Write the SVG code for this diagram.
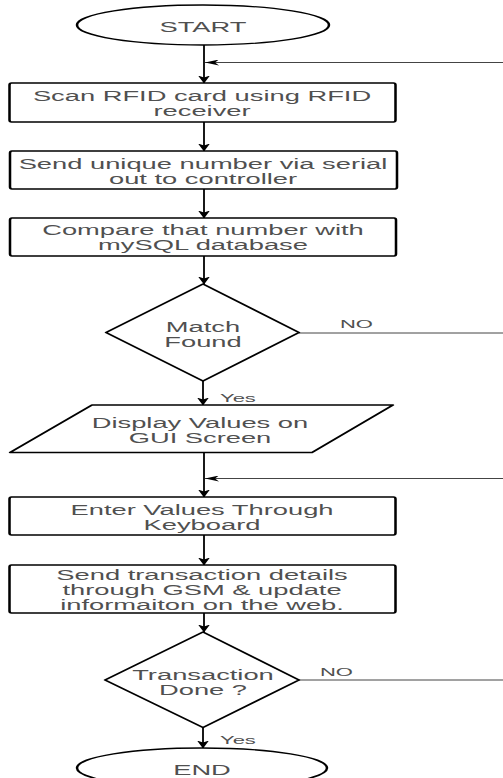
<svg xmlns="http://www.w3.org/2000/svg" width="503" height="778" viewBox="0 0 503 778">
<style>
.shape{fill:#fff;stroke:#000;stroke-width:1.3;stroke-linejoin:round}
.t{font-family:"Liberation Sans",Arial,sans-serif;font-size:14px;fill:#505050;text-anchor:middle}
.s{font-family:"Liberation Sans",Arial,sans-serif;font-size:11px;fill:#505050;text-anchor:start}
.c{fill:none;stroke:#000;stroke-width:1.8}
.f{fill:none;stroke:#444;stroke-width:1}
</style>
<defs>
<marker id="ad" markerUnits="userSpaceOnUse" viewBox="0 -6 8 12" markerWidth="8" markerHeight="12" refX="7.5" refY="0" orient="auto">
<path d="M0,-6 L8,0 L0,6 L2,0 Z" fill="#000"/>
</marker>
<marker id="al" markerUnits="userSpaceOnUse" viewBox="0 -3 14 6" markerWidth="14" markerHeight="6" refX="14" refY="0" orient="auto">
<path d="M0,-3 L14,0 L0,3 L4,0 Z" fill="#000"/>
</marker>
</defs>
<rect width="503" height="778" fill="#fff"/>
<g id="connectors">
<line class="c" x1="204" y1="45" x2="204" y2="83" marker-end="url(#ad)"/>
<line class="f" x1="503" y1="62.5" x2="205" y2="62.5" marker-end="url(#al)"/>
<line class="c" x1="204" y1="122" x2="204" y2="151" marker-end="url(#ad)"/>
<line class="c" x1="204" y1="189" x2="204" y2="218" marker-end="url(#ad)"/>
<line class="c" x1="204" y1="256" x2="204" y2="284" marker-end="url(#ad)"/>
<line class="f" x1="299" y1="333" x2="503" y2="333"/>
<text class="s" transform="translate(340,328) scale(2,1)">NO</text>
<line class="c" x1="203" y1="381" x2="203" y2="405" marker-end="url(#ad)"/>
<text class="s" transform="translate(220,401.5) scale(2,1)">Yes</text>
<line class="c" x1="204" y1="452" x2="204" y2="497" marker-end="url(#ad)"/>
<line class="f" x1="503" y1="478.5" x2="205" y2="478.5" marker-end="url(#al)"/>
<line class="c" x1="204" y1="535" x2="204" y2="565" marker-end="url(#ad)"/>
<line class="c" x1="204" y1="613" x2="204" y2="632" marker-end="url(#ad)"/>
<line class="f" x1="299" y1="680" x2="503" y2="680"/>
<text class="s" transform="translate(320,676) scale(2,1)">NO</text>
<line class="c" x1="203" y1="727" x2="203" y2="748" marker-end="url(#ad)"/>
<text class="s" transform="translate(220,744) scale(2,1)">Yes</text>
</g>
<g id="start">
<ellipse class="shape" transform="scale(1.95,1)" cx="104.10" cy="25" rx="64.62" ry="20"/>
<text class="t" transform="translate(203,32) scale(1.95,1)">START</text>
</g>
<g id="scan">
<rect class="shape" transform="scale(1.95,1)" x="4.872" y="83" width="197.95" height="39" rx="1" ry="2"/>
<text class="t" transform="translate(202,101) scale(1.95,1)">Scan RFID card using RFID</text>
<text class="t" transform="translate(202,115.5) scale(1.95,1)">receiver</text>
</g>
<g id="send">
<rect class="shape" transform="scale(1.95,1)" x="5.128" y="151" width="198.46" height="38" rx="1" ry="2"/>
<text class="t" transform="translate(203,169) scale(1.95,1)">Send unique number via serial</text>
<text class="t" transform="translate(203,183.5) scale(1.95,1)">out to controller</text>
</g>
<g id="compare">
<rect class="shape" transform="scale(1.95,1)" x="5.128" y="218" width="197.95" height="38" rx="1" ry="2"/>
<text class="t" transform="translate(203,235) scale(1.95,1)">Compare that number with</text>
<text class="t" transform="translate(203,249.5) scale(1.95,1)">mySQL database</text>
</g>
<g id="match">
<polygon class="shape" transform="scale(1.95,1)" points="104.10,284 153.33,332.5 104.10,381 54.36,332.5"/>
<text class="t" transform="translate(203,331.5) scale(1.95,1)">Match</text>
<text class="t" transform="translate(203,346.5) scale(1.95,1)">Found</text>
</g>
<g id="display">
<path class="shape" transform="scale(1.95,1)" d="M47.18,405 L201.54,405 L160,452.5 L5.128,452.5 Z"/>
<text class="t" transform="translate(200,428) scale(1.95,1)">Display Values on</text>
<text class="t" transform="translate(200,443) scale(1.95,1)">GUI Screen</text>
</g>
<g id="enter">
<rect class="shape" transform="scale(1.95,1)" x="4.872" y="497" width="197.95" height="38" rx="1" ry="2"/>
<text class="t" transform="translate(202,515) scale(1.95,1)">Enter Values Through</text>
<text class="t" transform="translate(202,530) scale(1.95,1)">Keyboard</text>
</g>
<g id="transaction">
<rect class="shape" transform="scale(1.95,1)" x="4.872" y="565" width="197.95" height="48" rx="1" ry="2"/>
<text class="t" transform="translate(202,580) scale(1.95,1)">Send transaction details</text>
<text class="t" transform="translate(202,595) scale(1.95,1)">through GSM &amp; update</text>
<text class="t" transform="translate(202,610) scale(1.95,1)">informaiton on the web.</text>
</g>
<g id="done">
<polygon class="shape" transform="scale(1.95,1)" points="104.10,632 153.33,680 104.10,727.5 53.85,680"/>
<text class="t" transform="translate(203,679.5) scale(1.95,1)">Transaction</text>
<text class="t" transform="translate(203,695) scale(1.95,1)">Done ?</text>
</g>
<g id="end">
<ellipse class="shape" transform="scale(1.95,1)" cx="103.59" cy="768" rx="64.10" ry="20"/>
<text class="t" transform="translate(202,775) scale(1.95,1)">END</text>
</g>
</svg>
